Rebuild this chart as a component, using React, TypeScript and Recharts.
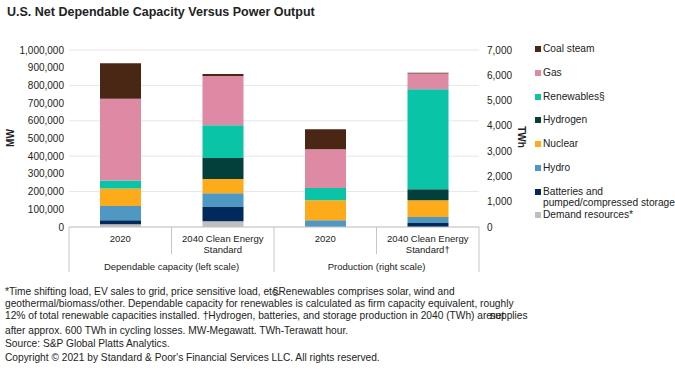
import React from 'react';
import { ComposedChart, Bar, XAxis, YAxis, CartesianGrid } from 'recharts';

// categories on the x axis (first two use MW, last two use TWh)
const categoryKeys = ['cap2020', 'cap2040', 'prod2020', 'prod2040'];
const categoryLabels = ['2020', '2040 Clean Energy\nStandard', '2020', '2040 Clean Energy\nStandard\u2020'];
const groupLabels = ['Dependable capacity (left scale)', 'Production (right scale)'];

const mwTicks = [0, 100000, 200000, 300000, 400000, 500000, 600000, 700000, 800000, 900000, 1000000];
const twhTicks = [0, 1000, 2000, 3000, 4000, 5000, 6000, 7000];

// dependable capacity, MW: [2020, 2040 CES]
const demandMW = [15000, 32000];
const batteriesMW = [23000, 81000];
const hydroMW = [80000, 77000];
const nuclearMW = [100000, 81000];
const hydrogenMW = [0, 119000];
const renewablesMW = [45000, 185000];
const gasMW = [462000, 278000];
const coalMW = [200000, 11000];

// production, TWh: [2020, 2040 CES]
const demandTWh = [0, 0];
const batteriesTWh = [0, 158];
const hydroTWh = [265, 238];
const nuclearTWh = [790, 660];
const hydrogenTWh = [0, 436];
const renewablesTWh = [486, 3960];
const gasTWh = [1530, 620];
const coalTWh = [790, 25];

const series = [
  { key: 'demand', name: 'Demand resources*', color: '#bfbfbf', mw: demandMW, twh: demandTWh },
  { key: 'batteries', name: 'Batteries and\npumped/compressed storage', color: '#002a5c', mw: batteriesMW, twh: batteriesTWh },
  { key: 'hydro', name: 'Hydro', color: '#4f98c3', mw: hydroMW, twh: hydroTWh },
  { key: 'nuclear', name: 'Nuclear', color: '#fdaa1b', mw: nuclearMW, twh: nuclearTWh },
  { key: 'hydrogen', name: 'Hydrogen', color: '#03403c', mw: hydrogenMW, twh: hydrogenTWh },
  { key: 'renewables', name: 'Renewables\u00a7', color: '#09c4a7', mw: renewablesMW, twh: renewablesTWh },
  { key: 'gas', name: 'Gas', color: '#de8aa5', mw: gasMW, twh: gasTWh },
  { key: 'coal', name: 'Coal steam', color: '#4a2614', mw: coalMW, twh: coalTWh },
];

const data = categoryKeys.map((key, i) => {
  const row: Record<string, any> = { key };
  series.forEach((s) => {
    row[`${s.key}_mw`] = i < 2 ? s.mw[i] : null;
    row[`${s.key}_twh`] = i >= 2 ? s.twh[i - 2] : null;
  });
  return row;
});

const FONT = 'Arial, "Liberation Sans", sans-serif';
const LINE = '#c6c6c6';

function CategoryTick(props: any) {
  const { x, y, payload, index } = props;
  const half = payload && payload.offset ? payload.offset : 51;
  const lines = categoryLabels[index].split('\n');
  const outer = index % 2 === 0;
  return (
    <g>
      <line x1={x - half} x2={x - half} y1={y} y2={y + (outer ? 45 : 27)} stroke={LINE} />
      {index === categoryKeys.length - 1 && (
        <line x1={x + half} x2={x + half} y1={y} y2={y + 45} stroke={LINE} />
      )}
      {lines.map((l: string, j: number) => (
        <text key={j} x={x} y={y + 15 + j * 11} textAnchor="middle" fontSize={9.5} fill="#222" fontFamily={FONT}>
          {l}
        </text>
      ))}
      {outer && (
        <text x={x + half} y={y + 43} textAnchor="middle" fontSize={9.5} fill="#222" fontFamily={FONT}>
          {groupLabels[index / 2]}
        </text>
      )}
    </g>
  );
}

const footStyle: React.CSSProperties = {
  position: 'absolute',
  left: 5,
  fontSize: 10.2,
  whiteSpace: 'nowrap',
  color: '#222',
  lineHeight: '12px',
};

export default function App() {
  return (
    <div style={{ position: 'absolute', left: 0, top: 0, width: 675, height: 369, background: '#fff', fontFamily: FONT, overflow: 'hidden' }}>
      <div style={{ position: 'absolute', left: 7, top: 5, fontSize: 12.5, fontWeight: 'bold', color: '#222' }}>
        U.S. Net Dependable Capacity Versus Power Output
      </div>

      <div style={{ position: 'absolute', left: 0, top: 0 }}>
        <ComposedChart width={530} height={280} data={data} margin={{ top: 50, right: 0, left: 0, bottom: 0 }}>
          <CartesianGrid xAxisId="cap" yAxisId="left" vertical={false} stroke="#e6e6e6" />
          <XAxis
            xAxisId="cap"
            dataKey="key"
            height={53}
            interval={0}
            tickLine={false}
            tickSize={0}
            tickMargin={0}
            axisLine={{ stroke: LINE }}
            tick={<CategoryTick />}
          />
          <XAxis xAxisId="prod" dataKey="key" hide />
          <YAxis
            yAxisId="left"
            width={69}
            domain={[0, 1000000]}
            ticks={mwTicks}
            axisLine={false}
            tickLine={false}
            tickSize={0}
            tickMargin={5}
            tick={{ fontSize: 10, fill: '#222', fontFamily: FONT }}
            tickFormatter={(v: number) => v.toLocaleString('en-US')}
          />
          <YAxis
            yAxisId="right"
            orientation="right"
            width={51}
            domain={[0, 7000]}
            ticks={twhTicks}
            axisLine={false}
            tickLine={false}
            tickSize={0}
            tickMargin={8}
            tick={{ fontSize: 10, fill: '#222', fontFamily: FONT }}
            tickFormatter={(v: number) => v.toLocaleString('en-US')}
          />
          {series.map((s) => (
            <Bar
              key={`${s.key}_mw`}
              xAxisId="cap"
              yAxisId="left"
              stackId="mw"
              dataKey={`${s.key}_mw`}
              fill={s.color}
              barSize={41}
              isAnimationActive={false}
            />
          ))}
          {series.map((s) => (
            <Bar
              key={`${s.key}_twh`}
              xAxisId="prod"
              yAxisId="right"
              stackId="twh"
              dataKey={`${s.key}_twh`}
              fill={s.color}
              barSize={41}
              isAnimationActive={false}
            />
          ))}
        </ComposedChart>
      </div>

      <div style={{ position: 'absolute', left: 10, top: 138, transform: 'translate(-50%, -50%) rotate(-90deg)', fontSize: 10, fontWeight: 'bold', color: '#222' }}>
        MW
      </div>
      <div style={{ position: 'absolute', left: 521, top: 137, transform: 'translate(-50%, -50%) rotate(90deg)', fontSize: 10, fontWeight: 'bold', color: '#222' }}>
        TWh
      </div>

      <div style={{ position: 'absolute', left: 535, top: 43, fontSize: 10.2, color: '#222' }}>
        {[...series].reverse().map((s, i) => {
          const lines = s.name.split('\n');
          const top = i < 7 ? i * 23.8 : 6 * 23.8 + 23.2;
          return (
            <div key={s.key} style={{ position: 'absolute', left: 0, top, whiteSpace: 'nowrap', lineHeight: '11.5px' }}>
              <span style={{ position: 'absolute', left: 0, top: 3, width: 6, height: 6, background: s.color }} />
              {lines.map((l, j) => (
                <div key={j} style={{ marginLeft: 8 }}>{l}</div>
              ))}
            </div>
          );
        })}
      </div>

      <div style={{ ...footStyle, top: 286 }}>
        *Time shifting load, EV sales to grid, price sensitive load, etc.<span style={{ marginLeft: -7 }}>{'\u00a7'}Renewables comprises solar, wind and</span>
      </div>
      <div style={{ ...footStyle, top: 298 }}>
        geothermal/biomass/other. Dependable capacity for renewables is calculated as firm capacity equivalent, roughly
      </div>
      <div style={{ ...footStyle, top: 310 }}>
        12% of total renewable capacities installed. {'\u2020'}Hydrogen, batteries, and storage production in 2040 (TWh) are<span style={{ marginLeft: -2 }}>net</span><span style={{ marginLeft: -14 }}>supplies</span>
      </div>
      <div style={{ ...footStyle, top: 325 }}>
        after approx. 600 TWh in cycling losses. MW-Megawatt. TWh-Terawatt hour.
      </div>
      <div style={{ ...footStyle, top: 338 }}>Source: S&amp;P Global Platts Analytics.</div>
      <div style={{ ...footStyle, top: 352 }}>Copyright {'\u00a9'} 2021 by Standard &amp; Poor's Financial Services LLC. All rights reserved.</div>
    </div>
  );
}
